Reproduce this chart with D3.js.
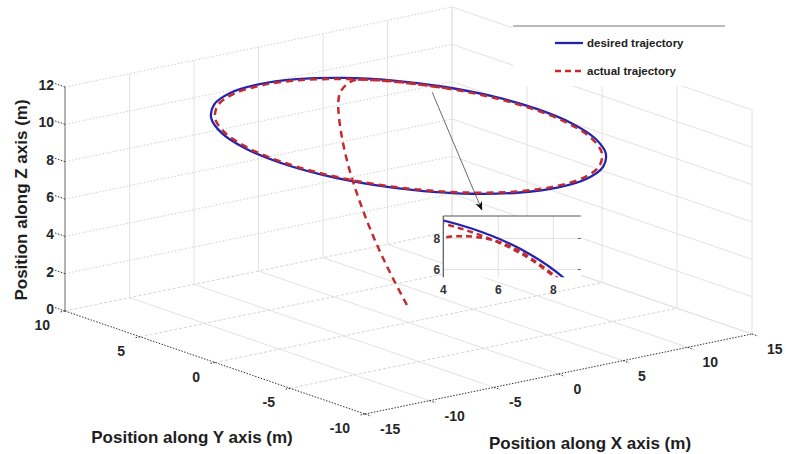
<!DOCTYPE html>
<html>
<head>
<meta charset="utf-8">
<script src="https://cdn.jsdelivr.net/npm/d3@7"></script>
<style>
body { margin: 0; background: #fff; }
svg { display: block; font-family: "Liberation Sans", Arial, sans-serif; }
</style>
</head>
<body>
<svg id="chart" width="786" height="454"></svg>
<script>
// tick values of the 3d axes
var xTicks = [-15, -10, -5, 0, 5, 10, 15];
var yTicks = [10, 5, 0, -5, -10];
var zTicks = [0, 2, 4, 6, 8, 10, 12];

// desired trajectory, circle of radius 10 at 10 m height (read every 15 deg)
var desiredX = [10, 9.66, 8.66, 7.07, 5, 2.59, 0, -2.59, -5, -7.07, -8.66, -9.66,
                -10, -9.66, -8.66, -7.07, -5, -2.59, 0, 2.59, 5, 7.07, 8.66, 9.66];
var desiredY = [0, 2.59, 5, 7.07, 8.66, 9.66, 10, 9.66, 8.66, 7.07, 5, 2.59,
                0, -2.59, -5, -7.07, -8.66, -9.66, -10, -9.66, -8.66, -7.07, -5, -2.59];
var desiredZ = 10;

// actual trajectory: climb from the start point, then one lap slightly inside the circle
var actualX = [-0.24, 0.02, 0.32, 0.68, 1.11, 1.59, 2.15, 2.8, 3.4, 3.77, 4.1, 4.6, 5.2, 6.0, 6.6, 7.0,
               8.49, 9.47, 9.8, 9.47, 8.49, 6.93, 4.9, 2.54, 0, -2.54, -4.9, -6.93, -8.49, -9.47,
               -9.8, -9.47, -8.49, -6.93, -4.9, -2.54, 0, 2.54, 4.9, 6.93, 8.49];
var actualY = [-0.1, 1.0, 2.07, 3.11, 4.12, 5.1, 6.04, 6.93, 7.6, 7.91, 8.08, 8.15, 8.1, 7.8, 7.35, 6.95,
               4.9, 2.54, 0, -2.54, -4.9, -6.93, -8.49, -9.47, -9.8, -9.47, -8.49, -6.93, -4.9, -2.54,
               0, 2.54, 4.9, 6.93, 8.49, 9.47, 9.8, 9.47, 8.49, 6.93, 4.9];
var actualZ = [1.0, 2.0, 3.0, 4.0, 5.0, 6.0, 7.0, 8.0, 8.8, 9.2, 9.5, 9.8, 10, 10, 10, 10,
               10, 10, 10, 10, 10, 10, 10, 10, 10, 10, 10, 10, 10, 10,
               10, 10, 10, 10, 10, 10, 10, 10, 10, 10, 10];

// zoomed top view
var insetXTicks = [4, 6, 8];
var insetYTicks = [6, 8];

var legendLabels = ["desired trajectory", "actual trajectory"];

var blue = "#2323b0", red = "#c42b2f";

var svg = d3.select("#chart");

// orthographic view: scales give the fraction along each box edge
var corner = [65, 311];               // (x=-15, y=10, z=0)
var xVec = [387, -80], yVec = [300, 103], zVec = [0, -224];
var x = d3.scaleLinear().domain([-15, 15]).range([0, 1]);
var y = d3.scaleLinear().domain([10, -10]).range([0, 1]);
var z = d3.scaleLinear().domain([0, 12]).range([0, 1]);

function proj(px, py, pz) {
  var a = x(px), b = y(py), c = z(pz);
  return [corner[0] + a * xVec[0] + b * yVec[0] + c * zVec[0],
          corner[1] + a * xVec[1] + b * yVec[1] + c * zVec[1]];
}

function seg(g, p1, p2, color, dash, w) {
  g.append("line")
    .attr("x1", p1[0]).attr("y1", p1[1])
    .attr("x2", p2[0]).attr("y2", p2[1])
    .attr("stroke", color)
    .attr("stroke-width", w || 1)
    .attr("stroke-dasharray", dash || null);
}

var grid = svg.append("g");
// floor
xTicks.forEach(function(t) {
  if (t > -15) seg(grid, proj(t, 10, 0), proj(t, -10, 0), "#e2e2e2");
});
yTicks.forEach(function(t) {
  if (t > -10) seg(grid, proj(-15, t, 0), proj(15, t, 0), "#d4d4d4", "3,2");
});
// back wall y = 10
xTicks.forEach(function(t) {
  if (t > -15) seg(grid, proj(t, 10, 0), proj(t, 10, 12), "#e2e2e2");
});
zTicks.forEach(function(t) {
  if (t > 0) seg(grid, proj(-15, 10, t), proj(15, 10, t), "#cfcfcf", "1.5,2");
});
// side wall x = 15
yTicks.forEach(function(t) {
  seg(grid, proj(15, t, 0), proj(15, t, 12), "#e2e2e2");
});
zTicks.forEach(function(t) {
  seg(grid, proj(15, 10, t), proj(15, -10, t), "#e2e2e2");
});

// axes
var axes = svg.append("g");
seg(axes, proj(-15, 10, 0), proj(-15, 10, 12), "#8c8c8c", null, 1.3);
seg(axes, proj(-15, 10, 0), proj(-15, -10, 0), "#333", "1.5,1.5");
seg(axes, proj(-15, -10, 0), proj(15, -10, 0), "#333", "1.5,1.5");

zTicks.forEach(function(t) {
  seg(axes, proj(-15, 10, t), proj(-15, 10.7, t), "#333", "1.5,1.5");
  var p = proj(-15, 10, t);
  axes.append("text").attr("x", p[0] - 11).attr("y", p[1] + 3)
    .attr("text-anchor", "end").text(t);
});
yTicks.forEach(function(t) {
  seg(axes, proj(-15, t, 0), proj(-15.45, t, 0), "#333", "1.5,1.5");
  var p = proj(-15, t, 0);
  axes.append("text").attr("x", p[0] - 15).attr("y", p[1] + 19)
    .attr("text-anchor", "end").text(t);
});
xTicks.forEach(function(t) {
  seg(axes, proj(t, -10, 0), proj(t, -10.4, 0), "#333", "1.5,1.5");
  var p = proj(t, -10, 0);
  axes.append("text").attr("x", p[0] + 15).attr("y", p[1] + 20)
    .attr("text-anchor", "start").text(t);
});
axes.selectAll("text")
  .attr("font-size", 14).attr("font-weight", "bold").attr("fill", "#262626");

var labels = svg.append("g")
  .attr("font-size", 17).attr("font-weight", "bold").attr("fill", "#1e1e1e")
  .attr("text-anchor", "middle");
labels.append("text").attr("x", 590).attr("y", 449).text("Position along X axis (m)");
labels.append("text").attr("x", 192).attr("y", 443).text("Position along Y axis (m)");
labels.append("text").attr("transform", "translate(27,200) rotate(-90)")
  .text("Position along Z axis (m)");

// trajectories
var desiredPts = desiredX.map(function(v, i) { return proj(v, desiredY[i], desiredZ); });
var actualPts = actualX.map(function(v, i) { return proj(v, actualY[i], actualZ[i]); });

svg.append("path")
  .attr("d", d3.line().curve(d3.curveCatmullRomClosed)(desiredPts))
  .attr("fill", "none").attr("stroke", blue).attr("stroke-width", 2.3);
svg.append("path")
  .attr("d", d3.line().curve(d3.curveCatmullRom)(actualPts))
  .attr("fill", "none").attr("stroke", red).attr("stroke-width", 2.5)
  .attr("stroke-dasharray", "7,5");

// inset (top view zoom)
var ix = d3.scaleLinear().domain([4, 9]).range([443.3, 580.8]);
var iy = d3.scaleLinear().domain([5.5, 9.45]).range([277.3, 216]);

var inset = svg.append("g");
inset.append("rect")
  .attr("x", ix(4)).attr("y", iy(9.45))
  .attr("width", ix(9) - ix(4)).attr("height", iy(5.5) - iy(9.45))
  .attr("fill", "#fff");
svg.append("clipPath").attr("id", "insetClip").append("rect")
  .attr("x", ix(4)).attr("y", iy(9.45))
  .attr("width", ix(9) - ix(4)).attr("height", iy(5.5) - iy(9.45));

insetXTicks.forEach(function(t) {
  if (t > 4) seg(inset, [ix(t), iy(5.5)], [ix(t), iy(9.45)], "#e2e2e2");
  inset.append("text").attr("x", ix(t)).attr("y", iy(5.5) + 17)
    .attr("text-anchor", "middle").text(t);
});
insetYTicks.forEach(function(t) {
  seg(inset, [ix(4), iy(t)], [ix(9), iy(t)], "#e2e2e2");
  seg(inset, [ix(9) - 3, iy(t)], [ix(9), iy(t)], "#666");
  inset.append("text").attr("x", ix(4) - 3).attr("y", iy(t) + 4)
    .attr("text-anchor", "end").text(t);
});
inset.selectAll("text")
  .attr("font-size", 12).attr("font-weight", "bold").attr("fill", "#333");

var curves = inset.append("g").attr("clip-path", "url(#insetClip)");
curves.append("path")
  .attr("d", d3.line().x(function(d, i) { return ix(d); })
    .y(function(d, i) { return iy(desiredY[i]); })
    .curve(d3.curveCatmullRomClosed)(desiredX))
  .attr("fill", "none").attr("stroke", blue).attr("stroke-width", 2.3);
curves.append("path")
  .attr("d", d3.line().x(function(d, i) { return ix(d); })
    .y(function(d, i) { return iy(actualY[i]); })
    .curve(d3.curveCatmullRom)(actualX))
  .attr("fill", "none").attr("stroke", red).attr("stroke-width", 2.5)
  .attr("stroke-dasharray", "6,4");

seg(inset, [ix(4), iy(9.45)], [ix(9), iy(9.45)], "#555", null, 1.2);
seg(inset, [ix(4), iy(9.45)], [ix(4), iy(5.5)], "#555", null, 1.2);

// arrow from the circle to the inset
svg.append("defs").append("marker")
  .attr("id", "head").attr("viewBox", "0 0 10 10")
  .attr("refX", 9).attr("refY", 5)
  .attr("markerWidth", 9).attr("markerHeight", 9)
  .attr("markerUnits", "userSpaceOnUse")
  .attr("orient", "auto")
  .append("path").attr("d", "M0,1 L10,5 L0,9 L3,5 Z").attr("fill", "#111");
var a0 = proj(7.3, 4.7, 10);
svg.append("line")
  .attr("x1", a0[0]).attr("y1", a0[1])
  .attr("x2", ix(5.4)).attr("y2", iy(9.85))
  .attr("stroke", "#444").attr("stroke-width", 0.8)
  .attr("marker-end", "url(#head)");

// legend
var legend = svg.append("g");
legend.append("rect").attr("x", 513).attr("y", 26).attr("width", 215).attr("height", 60)
  .attr("fill", "#fff");
seg(legend, [513, 26], [725, 26], "#777", null, 1.2);
legendLabels.forEach(function(name, i) {
  var ly = 43 + i * 28;
  legend.append("line")
    .attr("x1", 555).attr("x2", 583).attr("y1", ly).attr("y2", ly)
    .attr("stroke", i === 0 ? blue : red)
    .attr("stroke-width", i === 0 ? 2.3 : 2.5)
    .attr("stroke-dasharray", i === 0 ? null : "6,4");
  legend.append("text").attr("x", 587).attr("y", ly + 4)
    .attr("font-size", 11.5).attr("font-weight", "bold").attr("fill", "#222")
    .text(name);
});
</script>
</body>
</html>
